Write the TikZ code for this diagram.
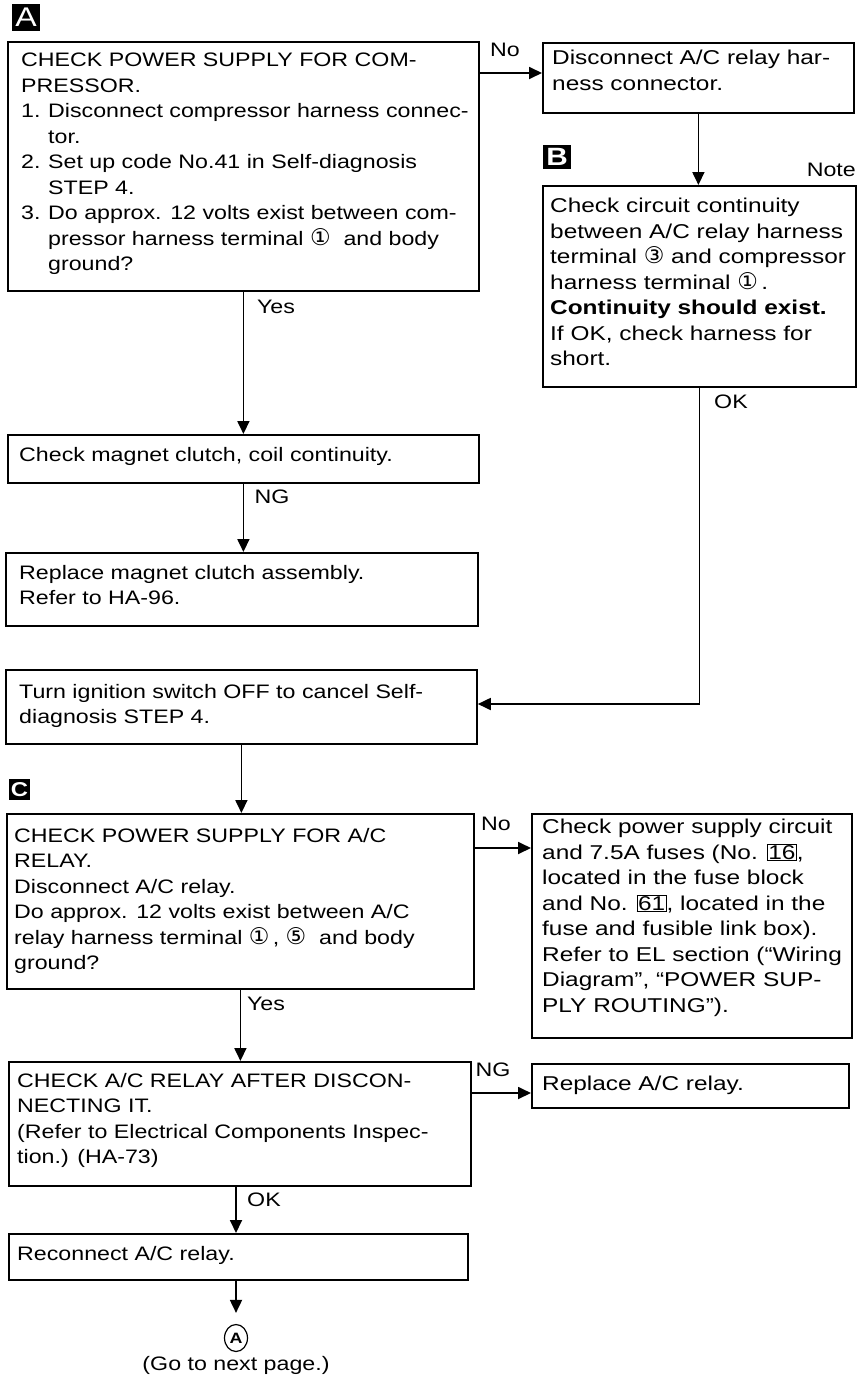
\documentclass[tikz,border=0pt]{standalone}
\usepackage{fontspec}
\setmainfont{Liberation Sans}[FakeStretch=1.19]
\newfontfamily\rfont{Liberation Sans}[FakeStretch=1.22]
\newfontfamily\symf{DejaVu Sans}
\usetikzlibrary{arrows.meta,shapes.geometric}
\newcommand\cnum[1]{{\symf\fontsize{23}{21}\selectfont #1}}
\newcommand\bnum[1]{{\setlength\fboxsep{0.6pt}\setlength\fboxrule{0.8pt}\fbox{#1}}}
\newcommand\numi[1]{\makebox[27pt][l]{#1}}
\newcommand\ind{\hspace*{27pt}}
\tikzset{
  box/.style={draw, line width=1.8pt, rectangle, inner sep=0pt, anchor=north west},
  txt/.style={anchor=north west, inner sep=0pt, align=left, font=\fontsize{19.5}{25.5}\selectfont},
  rtxt/.style={txt, font=\rfont\fontsize{20}{25.5}\selectfont},
  lbl/.style={inner sep=0pt, font=\fontsize{19.5}{25.5}\selectfont},
  arr/.style={line width=1.8pt, -{Triangle[length=13pt,width=12pt]}},
  tag/.style={fill=black, text=white, inner sep=0pt},
}
\begin{document}
\begin{tikzpicture}[x=1pt, y=-1pt]
\useasboundingbox[fill=white] (0,0) rectangle (860,1376);

% tags
\node[tag, minimum width=28pt, minimum height=27pt, font=\fontsize{27}{27}\selectfont] (tagA) at (26,17.5) {A};
\node[tag, minimum width=28pt, minimum height=24pt, font=\bfseries\fontsize{25}{25}\selectfont] (tagB) at (557,157) {B};
\node[tag, minimum width=21pt, minimum height=21pt, font=\bfseries\fontsize{20}{20}\selectfont] (tagC) at (19.5,789.5) {C};

% boxes
\node[box, minimum width=471pt, minimum height=249pt] (a1) at (7,41) {};
\node[box, minimum width=311pt, minimum height=70pt] (d1) at (542,42) {};
\node[box, minimum width=313pt, minimum height=201pt] (b) at (542,185) {};
\node[box, minimum width=471pt, minimum height=48pt] (m) at (7,434) {};
\node[box, minimum width=472pt, minimum height=73pt] (r) at (5,552) {};
\node[box, minimum width=471pt, minimum height=74pt] (t) at (5,669) {};
\node[box, minimum width=467pt, minimum height=175pt] (c) at (6,813) {};
\node[box, minimum width=320pt, minimum height=224pt] (p) at (531,813) {};
\node[box, minimum width=462pt, minimum height=124pt] (k) at (8,1061) {};
\node[box, minimum width=317pt, minimum height=44pt] (rr) at (531,1063) {};
\node[box, minimum width=459pt, minimum height=46pt] (rc) at (8,1233) {};

% texts
\node[txt] (a1t) at (21,53) {CHECK POWER SUPPLY FOR COM-\\
PRESSOR.\\
\numi{1.}Disconnect compressor harness connec-\\
\ind tor.\\
\numi{2.}Set up code No.41 in Self-diagnosis\\
\ind STEP 4.\\
\numi{3.}Do approx. 12 volts exist between com-\\
\ind pressor harness terminal \cnum{①}\ \ and body\\
\ind ground?};
\node[rtxt] (d1t) at (552,50) {Disconnect A/C relay har-\\ness connector.};
\node[rtxt] (bt) at (550,198) {Check circuit continuity\\
between A/C relay harness\\
terminal \cnum{③}\ and compressor\\
harness terminal \cnum{①}\,.\\
\textbf{Continuity should exist.}\\
If OK, check harness for\\
short.};
\node[txt] (mt) at (19,447) {Check magnet clutch, coil continuity.};
\node[txt] (rt) at (19,565) {Replace magnet clutch assembly.\\Refer to HA-96.};
\node[txt] (tt) at (19,684) {Turn ignition switch OFF to cancel Self-\\diagnosis STEP 4.};
\node[txt] (ct) at (14,828) {CHECK POWER SUPPLY FOR A/C\\
RELAY.\\
Disconnect A/C relay.\\
Do approx. 12 volts exist between A/C\\
relay harness terminal \cnum{①}\,, \cnum{⑤}\ \ and body\\
ground?};
\node[rtxt] (pt) at (542,819) {Check power supply circuit\\
and 7.5A fuses (No. \bnum{16},\\
located in the fuse block\\
and No. \bnum{61}, located in the\\
fuse and fusible link box).\\
Refer to EL section (“Wiring\\
Diagram”, “POWER SUP-\\
PLY ROUTING”).};
\node[txt] (kt) at (17,1073) {CHECK A/C RELAY AFTER DISCON-\\
NECTING IT.\\
(Refer to Electrical Components Inspec-\\
tion.) (HA-73)};
\node[rtxt] (rrt) at (542,1076) {Replace A/C relay.};
\node[txt] (rct) at (17,1246) {Reconnect A/C relay.};

% end marker
\node[ellipse, draw, line width=1.2pt, minimum width=23pt, minimum height=27pt, inner sep=0pt, font=\bfseries\fontsize{15}{15}\selectfont] (ca) at (236,1338) {A};
\node[lbl, anchor=base] (go) at (236,1370) {(Go to next page.)};

% edge labels
\node[lbl] (no1) at (505,50) {No};
\node[lbl, anchor=east] (note) at (856,170) {Note};
\node[lbl] (yes1) at (276,307) {Yes};
\node[lbl] (ok1) at (731,402) {OK};
\node[lbl] (ng1) at (272,497) {NG};
\node[lbl] (no2) at (496,824) {No};
\node[lbl] (yes2) at (266,1004) {Yes};
\node[lbl] (ng2) at (493,1070) {NG};
\node[lbl] (ok2) at (264,1200) {OK};

% connectors
\draw[arr] (a1.east |- 0,73) -- (d1.west |- 0,73);
\draw[arr] (d1.south) -- (d1.south |- b.north);
\draw[arr] (b.south) -- (b.south |- 0,704) -- (t.east |- 0,704);
\draw[arr] (a1.south) -- (a1.south |- m.north);
\draw[arr] (m.south) -- (m.south |- r.north);
\draw[arr] (t.south) -- (t.south |- c.north);
\draw[arr] (c.east |- 0,848) -- (p.west |- 0,848);
\draw[arr] (c.south) -- (c.south |- k.north);
\draw[arr] (k.east |- 0,1093) -- (rr.west |- 0,1093);
\draw[arr] (k.south -| ca) -- (rc.north -| ca);
\draw[arr, shorten >=11pt] (rc.south -| ca) -- (ca.north);
\end{tikzpicture}
\end{document}
